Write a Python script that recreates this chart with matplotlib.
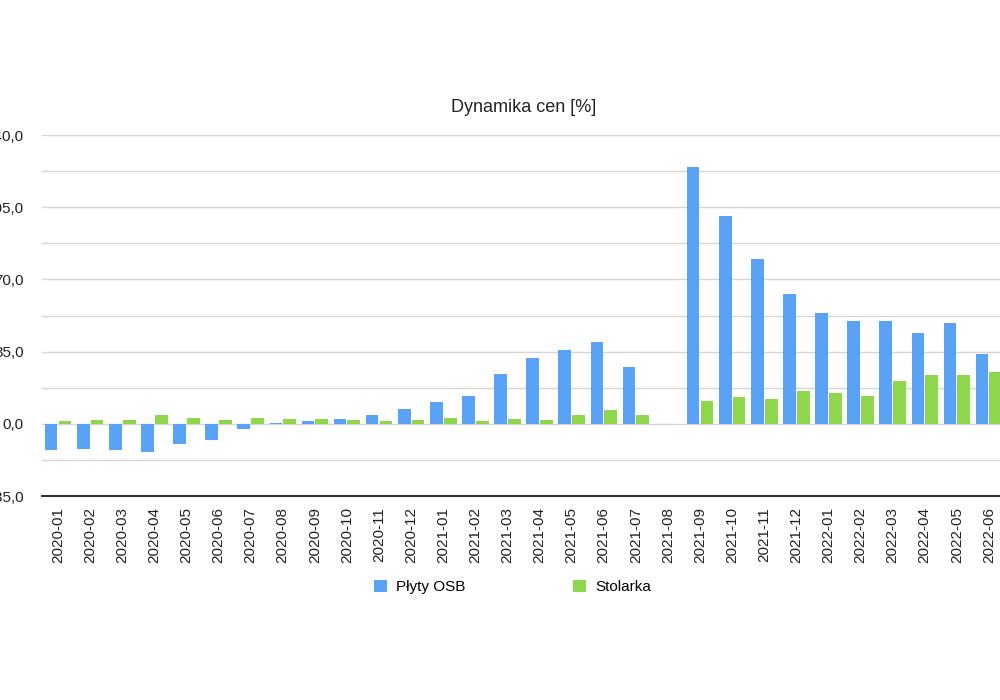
import matplotlib.pyplot as plt
import numpy as np
from matplotlib.ticker import FuncFormatter, MultipleLocator

plt.rcParams["font.family"] = ["Liberation Sans", "DejaVu Sans"]

months = [
    "2020-01", "2020-02", "2020-03", "2020-04", "2020-05", "2020-06",
    "2020-07", "2020-08", "2020-09", "2020-10", "2020-11", "2020-12",
    "2021-01", "2021-02", "2021-03", "2021-04", "2021-05", "2021-06",
    "2021-07", "2021-08", "2021-09", "2021-10", "2021-11", "2021-12",
    "2022-01", "2022-02", "2022-03", "2022-04", "2022-05", "2022-06",
]
osb = [
    -12.9, -12.4, -12.9, -13.8, -9.6, -8.0,
    -2.3, 0.4, 1.2, 2.4, 4.2, 7.3,
    10.8, 13.6, 24.2, 32.0, 35.9, 39.9,
    27.5, np.nan, 124.7, 100.8, 80.0, 62.9,
    53.8, 49.8, 49.8, 44.0, 48.8, 33.9,
]
stolarka = [
    1.6, 1.7, 2.0, 4.5, 3.0, 2.0,
    3.0, 2.4, 2.4, 1.9, 1.5, 1.9,
    2.6, 1.6, 2.3, 1.8, 4.4, 6.8,
    4.2, np.nan, 11.0, 12.9, 12.0, 15.7,
    14.9, 13.7, 20.8, 23.8, 23.8, 24.9,
]

blue = "#5aa2f5"
green = "#8ed64b"

fig = plt.figure(figsize=(10, 7), dpi=100)
ax = fig.add_axes([0.042, 0.2914, 0.963, 0.5157])

x = np.arange(len(months))
ax.bar(x - 0.215, osb, width=0.39, color=blue, label="Płyty OSB", zorder=3)
ax.bar(x + 0.215, stolarka, width=0.40, color=green, label="Stolarka", zorder=3)

ax.set_xlim(-0.5, len(months) - 0.5)
ax.set_ylim(-35, 140)
ax.yaxis.set_major_locator(MultipleLocator(35))
ax.yaxis.set_minor_locator(MultipleLocator(17.5))
ax.yaxis.set_major_formatter(FuncFormatter(lambda v, p: f"{v:.1f}".replace(".", ",")))
ax.grid(axis="y", which="both", color="#d6d6d6", linewidth=1.0, zorder=0)

ax.set_xticks(x)
ax.set_xticklabels(months, rotation=90, fontsize=11, color="#222222")
ax.tick_params(axis="x", length=0, pad=8)
ax.tick_params(axis="y", which="both", length=0, pad=13, labelsize=11, labelcolor="#222222")

for side in ["top", "right", "left"]:
    ax.spines[side].set_visible(False)
ax.spines["bottom"].set_color("#333333")
ax.spines["bottom"].set_linewidth(1.5)
ax.spines["bottom"].set_zorder(4)

fig.text(0.524, 1 - 107 / 700, "Dynamika cen [%]", ha="center", va="center",
         fontsize=13, color="#222222")

fig.legend(loc="center", bbox_to_anchor=(0.5125, 1 - 587 / 700), ncol=2,
           frameon=False, fontsize=11, handlelength=0.85, handleheight=0.85,
           handletextpad=0.55, columnspacing=7.1)

fig.savefig("out.png", dpi=100)
